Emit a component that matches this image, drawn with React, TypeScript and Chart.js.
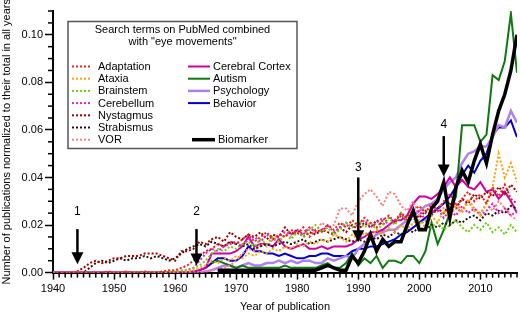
import React, { useEffect, useRef } from 'react';
import { Chart, registerables } from 'chart.js';

Chart.register(...registerables);

const FONT = "'Liberation Sans', Arial, Helvetica, sans-serif";

const firstYear = 1940;
const lastYear = 2016;
const years: number[] = Array.from({ length: lastYear - firstYear + 1 }, (_, i) => firstYear + i);

const yTickLabels = ['0.00', '0.02', '0.04', '0.06', '0.08', '0.10'];
const xTickLabels = ['1940', '1950', '1960', '1970', '1980', '1990', '2000', '2010'];

const legendTitle = ['Search terms on PubMed combined', 'with "eye movements"'];
const seriesNames = [
  'Adaptation', 'Ataxia', 'Brainstem', 'Cerebellum', 'Nystagmus', 'Strabismus', 'VOR',
  'Cerebral Cortex', 'Autism', 'Psychology', 'Behavior', 'Biomarker',
];

const N = null;

const adaptation = [
  0, 0, 0, 0, 0, 0, 0, 0, 0, 0.0005,
  0, 0, 0.0005, 0, 0, 0.0005, 0, 0, 0.0005, 0.001,
  0.001, 0.002, 0.003, 0.005, 0.007, 0.009, 0.010, 0.012, 0.011, 0.013,
  0.012, 0.014, 0.016, 0.013, 0.015, 0.017, 0.014, 0.016, 0.015, 0.018,
  0.016, 0.019, 0.015, 0.018, 0.017, 0.020, 0.018, 0.021, 0.019, 0.022,
  0.020, 0.023, 0.021, 0.019, 0.022, 0.024, 0.021, 0.025, 0.023, 0.026,
  0.028, 0.025, 0.029, 0.026, 0.030, 0.033, 0.028, 0.031, 0.034, 0.030,
  0.033, 0.029, 0.036, 0.032, 0.037, 0.031, 0.029,
];
const ataxia = [
  0, 0, 0, 0, 0, 0, 0, 0, 0, 0,
  0, 0, 0, 0, 0, 0, 0, 0, 0, 0,
  0, 0, 0.0005, 0.001, 0.002, 0.003, 0.005, 0.004, 0.006, 0.005,
  0.007, 0.006, 0.008, 0.007, 0.009, 0.008, 0.010, 0.009, 0.011, 0.010,
  0.012, 0.011, 0.013, 0.012, 0.014, 0.013, 0.016, 0.015, 0.013, 0.016,
  0.014, 0.017, 0.015, 0.018, 0.016, 0.019, 0.017, 0.020, 0.018, 0.021,
  0.022, 0.019, 0.024, 0.021, 0.026, 0.023, 0.028, 0.025, 0.030, 0.026,
  0.024, 0.029, 0.036, 0.050, 0.040, 0.046, 0.038,
];
const brainstem = [
  0, 0, 0, 0, 0, 0, 0, 0, 0, 0,
  0, 0, 0, 0, 0, 0, 0, 0, 0, 0.0005,
  0.0005, 0.001, 0.001, 0.002, 0.003, 0.005, 0.008, 0.010, 0.009, 0.011,
  0.010, 0.012, 0.013, 0.011, 0.014, 0.012, 0.015, 0.013, 0.016, 0.014,
  0.017, 0.015, 0.018, 0.020, 0.017, 0.019, 0.016, 0.018, 0.021, 0.019,
  0.022, 0.019, 0.021, 0.018, 0.020, 0.023, 0.020, 0.025, 0.021, 0.023,
  0.020, 0.022, 0.019, 0.021, 0.018, 0.020, 0.022, 0.019, 0.017, 0.020,
  0.018, 0.021, 0.017, 0.019, 0.016, 0.020, 0.017,
];
const cerebellum = [
  0, 0, 0, 0, 0, 0, 0, 0, 0, 0,
  0, 0, 0, 0, 0, 0, 0, 0, 0, 0,
  0, 0.0005, 0.001, 0.002, 0.005, 0.008, 0.010, 0.009, 0.011, 0.012,
  0.013, 0.011, 0.014, 0.015, 0.013, 0.016, 0.014, 0.015, 0.017, 0.016,
  0.018, 0.016, 0.019, 0.017, 0.018, 0.020, 0.017, 0.019, 0.021, 0.019,
  0.020, 0.022, 0.019, 0.021, 0.023, 0.020, 0.022, 0.025, 0.021, 0.024,
  0.026, 0.022, 0.025, 0.027, 0.023, 0.026, 0.024, 0.028, 0.025, 0.027,
  0.024, 0.026, 0.029, 0.025, 0.027, 0.024, 0.026,
];
const nystagmus = [
  0, 0, 0, 0, 0.0005, 0.002, 0.004, 0.005, 0.004, 0.005,
  0.006, 0.006, 0.007, 0.007, 0.007, 0.008, 0.008, 0.008, 0.007, 0.006,
  0.005, 0.009, 0.009, 0.010, 0.013, 0.012, 0.014, 0.015, 0.013, 0.017,
  0.015, 0.014, 0.016, 0.015, 0.017, 0.014, 0.016, 0.015, 0.019, 0.016,
  0.018, 0.015, 0.017, 0.016, 0.018, 0.017, 0.016, 0.019, 0.017, 0.020,
  0.018, 0.021, 0.019, 0.022, 0.020, 0.023, 0.021, 0.024, 0.022, 0.025,
  0.023, 0.026, 0.024, 0.027, 0.025, 0.029, 0.027, 0.031, 0.029, 0.033,
  0.031, 0.034, 0.032, 0.036, 0.033, 0.037, 0.034,
];
const strabismus = [
  0, 0, 0, 0, 0, 0, 0.002, 0.004, 0.005, 0.004,
  0.005, 0.006, 0.005, 0.006, 0.006, 0.007, 0.006, 0.007, 0.006, 0.005,
  0.006, 0.008, 0.010, 0.011, 0.012, 0.011, 0.013, 0.012, 0.011, 0.013,
  0.012, 0.011, 0.012, 0.010, 0.011, 0.012, 0.011, 0.012, 0.013, 0.012,
  0.013, 0.014, 0.012, 0.013, 0.014, 0.013, 0.014, 0.015, 0.014, 0.013,
  0.014, 0.013, 0.015, 0.014, 0.016, 0.015, 0.017, 0.016, 0.018, 0.017,
  0.019, 0.018, 0.020, 0.019, 0.021, 0.020, 0.022, 0.021, 0.023, 0.024,
  0.022, 0.025, 0.024, 0.026, 0.025, 0.028, 0.027,
];
const vor = [
  0, 0, 0, 0, 0, 0, 0, 0, 0, 0,
  0, 0, 0, 0, 0, 0, 0, 0, 0, 0,
  0, 0, 0, 0, 0, 0.0005, 0.001, 0.001, 0.002, 0.003,
  0.005, 0.008, 0.010, 0.009, 0.012, 0.011, 0.014, 0.013, 0.016, 0.015,
  0.018, 0.016, 0.019, 0.017, 0.021, 0.019, 0.020, 0.027, 0.027, 0.024,
  0.030, 0.033, 0.035, 0.032, 0.028, 0.034, 0.033, 0.028, 0.026, 0.030,
  0.024, 0.028, 0.025, 0.030, 0.027, 0.024, 0.029, 0.026, 0.031, 0.027,
  0.025, 0.029, 0.026, 0.030, 0.027, 0.024, 0.022,
];
const cerebralCortex = [
  0, 0, 0, 0, 0, 0, 0, 0, 0, 0,
  0, 0, 0, 0, 0, 0, 0, 0, 0, 0,
  0, 0, 0, 0.0005, 0.001, 0.002, 0.008, 0.008, 0.008, 0.008,
  0.009, 0.011, 0.015, 0.011, 0.012, 0.012, 0.011, 0.014, 0.011, 0.010,
  0.011, 0.012, 0.010, 0.010, 0.011, 0.010, 0.011, 0.011, 0.011, 0.012,
  0.014, 0.015, 0.017, 0.017, 0.018, 0.020, 0.022, 0.022, 0.024, 0.029,
  0.032, 0.032, 0.031, 0.033, 0.036, 0.040, 0.036, 0.039, 0.036, 0.035,
  0.038, 0.034, 0.035, 0.031, 0.034, 0.030, 0.025,
];
const autism = [
  N, N, N, N, N, N, N, N, N, N,
  N, N, N, N, N, N, N, N, N, N,
  N, N, N, N, N, N, 0.004, 0.005, 0.004, 0.003,
  0.002, 0.003, 0.002, 0.002, 0.002, 0.002, 0.002, 0.002, 0.003, 0.002,
  0.002, 0.002, 0.002, 0.002, 0.003, 0.004, 0.002, 0.002, 0.004, 0.008,
  0.003, 0.006, 0.004, 0.007, 0.002, 0.005, 0.005, 0.004, 0.007, 0.007,
  0.004, 0.009, 0.021, 0.012, 0.018, 0.025, 0.032, 0.062, 0.062, 0.062,
  0.055, 0.058, 0.083, 0.081, 0.089, 0.109, 0.084,
];
const psychology = [
  0, 0, 0, 0, 0, 0, 0, 0, 0, 0,
  0, 0, 0, 0, 0, 0, 0, 0, 0, 0,
  0, 0, 0, 0, 0, 0.0005, 0.001, 0.002, 0.003, 0.003,
  0.002, 0.003, 0.004, 0.003, 0.003, 0.004, 0.004, 0.005, 0.004, 0.005,
  0.004, 0.005, 0.005, 0.004, 0.004, 0.006, 0.005, 0.006, 0.007, 0.006,
  0.010, 0.012, 0.014, 0.016, 0.017, 0.018, 0.018, 0.020, 0.022, 0.024,
  0.026, 0.028, 0.029, 0.031, 0.035, 0.038, 0.040, 0.046, 0.050, 0.051,
  0.053, 0.053, 0.057, 0.062, 0.061, 0.068, 0.063,
];
const behavior = [
  0, 0, 0, 0, 0, 0, 0, 0, 0, 0,
  0, 0, 0, 0, 0, 0, 0, 0, 0, 0,
  0, 0, 0, 0.0005, 0.001, 0.002, 0.004, 0.006, 0.006, 0.005,
  0.005, 0.007, 0.011, 0.009, 0.009, 0.008, 0.008, 0.007, 0.008, 0.007,
  0.006, 0.006, 0.007, 0.007, 0.008, 0.008, 0.007, 0.007, 0.007, 0.009,
  0.010, 0.010, 0.011, 0.011, 0.012, 0.013, 0.014, 0.016, 0.017, 0.019,
  0.021, 0.023, 0.025, 0.027, 0.029, 0.032, 0.036, 0.041, 0.045, 0.042,
  0.047, 0.050, 0.058, 0.061, 0.061, 0.064, 0.057,
];
const biomarker = [
  N, N, N, N, N, N, N, N, N, N,
  N, N, N, N, N, N, N, N, N, N,
  N, N, N, N, N, N, N, 0.001, 0.001, 0.001,
  0.001, 0.001, 0.001, 0.001, 0.001, 0.001, 0.001, 0.001, 0.001, 0.001,
  0.001, 0.001, 0.001, 0.001, 0.002, 0.003, 0.002, 0.001, 0.001, 0.007,
  0.004, 0.009, 0.016, 0.009, 0.014, 0.011, 0.013, 0.013, 0.020, 0.026,
  0.018, 0.018, 0.027, 0.030, 0.038, 0.023, 0.036, 0.043, 0.038, 0.047,
  0.054, 0.046, 0.058, 0.068, 0.075, 0.085, 0.100,
];

const seriesValues = [
  adaptation, ataxia, brainstem, cerebellum, nystagmus, strabismus, vor,
  cerebralCortex, autism, psychology, behavior, biomarker,
];

// annotations (data coordinates)
const arrowLabels = ['1', '2', '3', '4'];
const arrowYears = [1944, 1963.5, 1990, 2004];
const arrowTips = [0.0035, 0.003, 0.0128, 0.0404];
const arrowTails = [0.0183, 0.0183, 0.040, 0.0574];
const arrowTextAt = [0.0258, 0.0258, 0.0443, 0.0620];

// styles
const seriesColors = [
  '#f02020', '#ffa010', '#70d010', '#e020d0', '#a00000', '#2a1010', '#ff8080',
  '#d000a0', '#107810', '#b080f0', '#0000d0', '#000000',
];
const seriesDotted = [true, true, true, true, true, true, true, false, false, false, false, false];
const seriesWidths = [2, 2, 2, 2, 2, 2, 2, 2, 2, 2.5, 2, 3.5];
const seriesOrder = [2, 2, 2, 2, 2, 2, 2, 3, 3, 3, 3, 0];
// legend slots: [column, row]
const legendSlots = [
  [0, 0], [0, 1], [0, 2], [0, 3], [0, 4], [0, 5], [0, 6],
  [1, 0], [1, 1], [1, 2], [1, 3], [2, 6],
];

const DASH = [2, 2];

const legendPlugin = {
  id: 'boxLegend',
  afterDraw(chart: any) {
    const { ctx, chartArea } = chart;
    const left = chartArea.left + 15;
    const top = Math.round(chartArea.top) + 10.5;
    const w = 229;
    const h = 127;
    ctx.save();
    ctx.fillStyle = '#ffffff';
    ctx.fillRect(left, top, w, h);
    ctx.strokeStyle = '#555555';
    ctx.lineWidth = 1.5;
    ctx.strokeRect(left, top, w, h);
    ctx.fillStyle = '#000';
    ctx.font = `11px ${FONT}`;
    ctx.textAlign = 'center';
    ctx.textBaseline = 'middle';
    ctx.fillText(legendTitle[0], left + w / 2, top + 8.5);
    ctx.fillText(legendTitle[1], left + w / 2, top + 20.5);
    ctx.textAlign = 'left';
    const colX = [
      [4, 24, 30],
      [120, 142, 145],
      [124, 147, 150],
    ];
    chart.data.datasets.forEach((ds: any, i: number) => {
      const [c, r] = legendSlots[i];
      const y = top + 45 + r * 12.2;
      const [x0, x1, tx] = colX[c];
      ctx.beginPath();
      ctx.strokeStyle = ds.borderColor;
      ctx.lineWidth = ds.borderWidth;
      ctx.setLineDash(ds.borderDash || []);
      ctx.moveTo(left + x0, y);
      ctx.lineTo(left + x1, y);
      ctx.stroke();
      ctx.setLineDash([]);
      ctx.fillStyle = '#000';
      ctx.fillText(ds.label, left + tx, y + 0.5);
    });
    ctx.restore();
  },
};

const arrowPlugin = {
  id: 'arrows',
  afterDatasetsDraw(chart: any) {
    const { ctx, scales } = chart;
    const xs = scales.x;
    const ys = scales.y;
    ctx.save();
    arrowYears.forEach((yr, i) => {
      const x = xs.getPixelForValue(yr);
      const tip = ys.getPixelForValue(arrowTips[i]);
      const tail = ys.getPixelForValue(arrowTails[i]);
      const headH = 12;
      const headW = 6;
      ctx.strokeStyle = '#000';
      ctx.fillStyle = '#000';
      ctx.lineWidth = 2.5;
      ctx.beginPath();
      ctx.moveTo(x, tail);
      ctx.lineTo(x, tip - headH + 1);
      ctx.stroke();
      ctx.beginPath();
      ctx.moveTo(x - headW, tip - headH);
      ctx.lineTo(x + headW, tip - headH);
      ctx.lineTo(x, tip);
      ctx.closePath();
      ctx.fill();
      ctx.font = `12px ${FONT}`;
      ctx.textAlign = 'center';
      ctx.textBaseline = 'middle';
      ctx.fillText(arrowLabels[i], x, ys.getPixelForValue(arrowTextAt[i]));
    });
    ctx.restore();
  },
};

const minorTickPlugin = {
  id: 'minorTicks',
  afterDraw(chart: any) {
    const { ctx, scales, chartArea } = chart;
    ctx.save();
    ctx.strokeStyle = '#000';
    ctx.lineWidth = 1.5;
    scales.y.ticks.forEach((t: any) => {
      const k = Math.round(t.value * 1000);
      if (k % 20 !== 0) {
        const y = scales.y.getPixelForValue(t.value);
        ctx.beginPath();
        ctx.moveTo(chartArea.left, y);
        ctx.lineTo(chartArea.left - 5, y);
        ctx.stroke();
      }
    });
    scales.x.ticks.forEach((t: any) => {
      const v = Math.round(t.value);
      if (v % 10 !== 0) {
        const x = scales.x.getPixelForValue(v);
        ctx.beginPath();
        ctx.moveTo(x, chartArea.bottom);
        ctx.lineTo(x, chartArea.bottom + 5);
        ctx.stroke();
      }
    });
    ctx.restore();
  },
};

export default function App() {
  const ref = useRef<HTMLCanvasElement | null>(null);

  useEffect(() => {
    if (!ref.current) return;
    Chart.defaults.font.family = FONT;
    Chart.defaults.color = '#000';
    const datasets = seriesNames.map((name, i) => ({
      label: name,
      data: years.map((yr, j) => ({ x: yr, y: seriesValues[i][j] })),
      borderColor: seriesColors[i],
      backgroundColor: seriesColors[i],
      borderWidth: seriesWidths[i],
      borderDash: seriesDotted[i] ? DASH : [],
      pointRadius: 0,
      tension: 0,
      spanGaps: false,
      order: seriesOrder[i],
      borderJoinStyle: 'miter' as const,
    }));
    const chart = new Chart(ref.current, {
      type: 'line',
      data: { datasets },
      plugins: [arrowPlugin, minorTickPlugin, legendPlugin],
      options: {
        animation: false,
        responsive: true,
        maintainAspectRatio: false,
        layout: { padding: { top: 11, right: 3, left: 0, bottom: 2 } },
        plugins: {
          legend: { display: false },
          tooltip: { enabled: false },
        },
        scales: {
          x: {
            type: 'linear',
            min: firstYear,
            max: lastYear,
            border: { color: '#000', width: 2 },
            grid: {
              drawOnChartArea: false,
              drawTicks: true,
              tickLength: 7,
              tickWidth: 1.5,
              tickColor: (c: any) => (c.tick && Math.round(c.tick.value) % 10 === 0 ? '#000' : 'rgba(0,0,0,0)'),
            },
            ticks: {
              stepSize: 1,
              autoSkip: false,
              maxRotation: 0,
              padding: 3,
              font: { size: 11 },
              callback: (v: any) => {
                const s = String(Math.round(v));
                return xTickLabels.includes(s) ? s : '';
              },
            },
            title: {
              display: true,
              text: 'Year of publication',
              font: { size: 11 },
              padding: { top: 2, bottom: 0 },
            },
          },
          y: {
            min: 0,
            max: 0.11,
            border: { color: '#000', width: 2 },
            afterFit: (s: any) => { s.width = 53; },
            grid: {
              drawOnChartArea: false,
              drawTicks: true,
              tickLength: 8,
              tickWidth: 1.5,
              tickColor: (c: any) => (c.tick && Math.round(c.tick.value * 1000) % 20 === 0 ? '#000' : 'rgba(0,0,0,0)'),
            },
            ticks: {
              stepSize: 0.005,
              autoSkip: false,
              padding: 2,
              font: { size: 11 },
              callback: (v: any) => {
                const s = Number(v).toFixed(2);
                return Math.round(Number(v) * 1000) % 20 === 0 && yTickLabels.includes(s) ? s : '';
              },
            },
            title: {
              display: true,
              text: 'Number of publications normalized to their total in all years',
              font: { size: 11 },
              padding: { top: 0, bottom: 0 },
            },
          },
        },
      },
    });
    return () => chart.destroy();
  }, []);

  return (
    <div style={{ position: 'absolute', left: 0, top: 0, width: 520, height: 316 }}>
      <canvas ref={ref} />
    </div>
  );
}
